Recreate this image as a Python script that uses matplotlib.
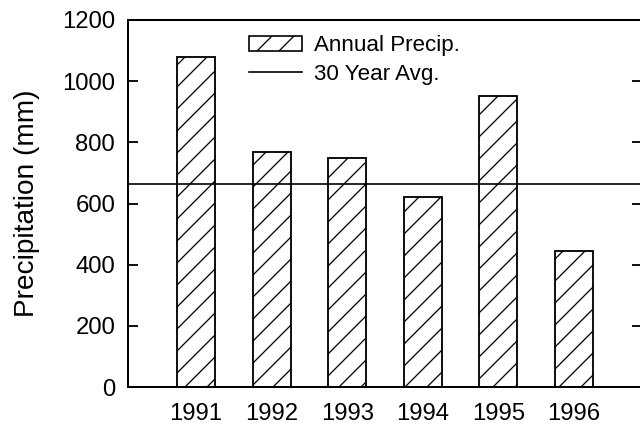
import matplotlib.pyplot as plt
from matplotlib.lines import Line2D
from matplotlib.patches import Patch

years = [1991, 1992, 1993, 1994, 1995, 1996]
precip = [1080, 769, 748, 621, 951, 446]
avg_30yr = 665
yticks = [0, 200, 400, 600, 800, 1000, 1200]

plt.rcParams["font.family"] = ["Liberation Sans", "DejaVu Sans"]
plt.rcParams["hatch.linewidth"] = 0.7

dpi = 132
fig = plt.figure(figsize=(640 / dpi, 425 / dpi), dpi=dpi)
ax = fig.add_axes([128 / 640, 38 / 425, 514 / 640, 367 / 425])

ax.bar(years, precip, width=0.5, color="white", edgecolor="black",
       linewidth=1.0, hatch="//", zorder=2)
ax.axhline(avg_30yr, color="black", linewidth=0.9, zorder=3)

ax.set_xlim(1990.1, 1996.9)
ax.set_ylim(0, 1200)
ax.set_xticks(years)
ax.set_xticklabels([str(y) for y in years])
ax.set_yticks(yticks)

ax.tick_params(axis="x", length=0, pad=9, labelsize=13)
ax.tick_params(axis="y", direction="in", length=5.5, width=1.0,
               pad=7, labelsize=13, right=True)

for side in ["left", "bottom", "top", "right"]:
    ax.spines[side].set_linewidth(1.1)

ax.set_ylabel("Precipitation (mm)", fontsize=15.3)
ax.yaxis.set_label_coords(-0.171, 0.5)

handles = [
    Patch(facecolor="white", edgecolor="black", hatch="//", linewidth=0.9),
    Line2D([], [], color="black", linewidth=0.9),
]
ax.legend(handles, ["Annual Precip.", "30 Year Avg."],
          loc="upper left", bbox_to_anchor=(0.2354, 0.958),
          frameon=False, fontsize=12.2, handlelength=2.35, handleheight=0.7,
          handletextpad=0.55, labelspacing=0.35, borderpad=0,
          borderaxespad=0)

fig.savefig("out.png", dpi=dpi)
